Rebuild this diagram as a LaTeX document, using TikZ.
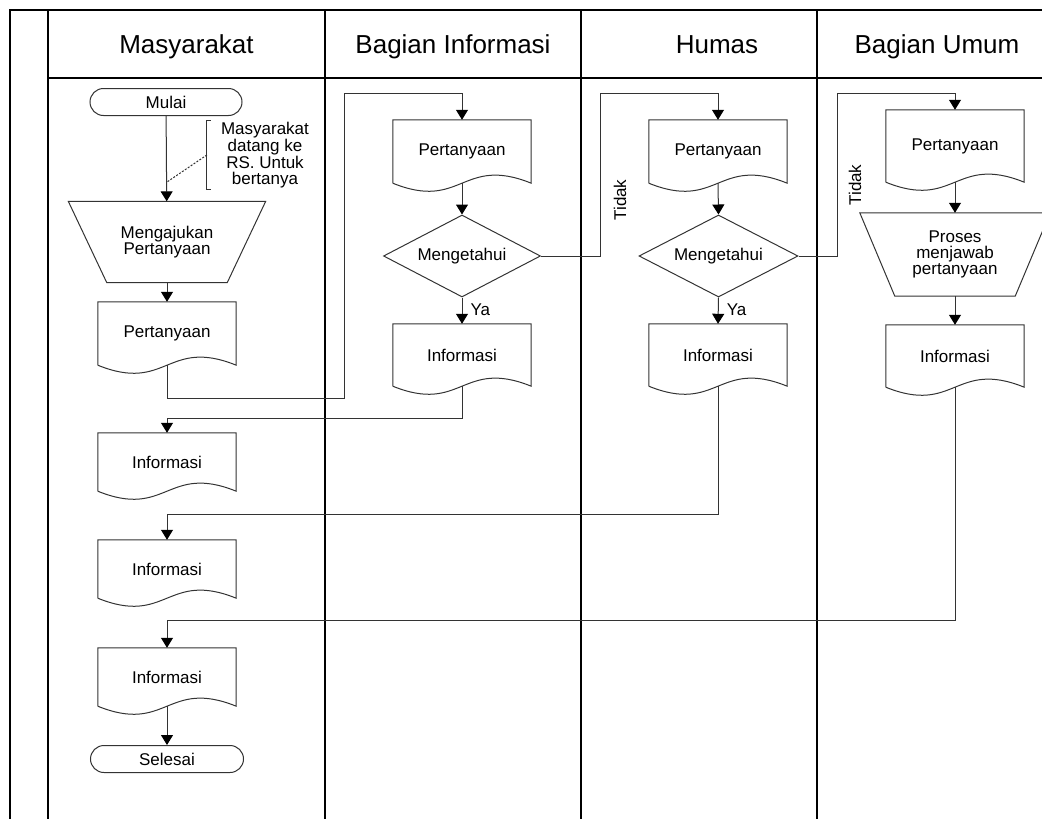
\documentclass[tikz,border=0pt]{standalone}
\usepackage{fontspec}
\setmainfont{Liberation Sans}
\usepackage{tikz}
\usetikzlibrary{shapes.geometric,arrows.meta,calc}
\definecolor{linecol}{gray}{0.2}

\tikzset{
  shapeline/.style={draw=linecol, line width=1pt},
  flow/.style={draw=linecol, line width=1pt, -{Triangle[width=12pt,length=10pt,black]}},
  lane/.style={draw=black, line width=1.3pt},
  headtext/.style={font=\fontsize{26}{30}\selectfont, anchor=base},
  bodytext/.style={font=\fontsize{17}{15.7}\selectfont, align=center},
  terminal/.style={bodytext, shapeline, rounded corners=13.5pt, minimum width=152pt, minimum height=27pt, inner sep=0pt},
  decision/.style={bodytext, shapeline, diamond, aspect=2, minimum width=157pt, minimum height=82pt, inner sep=0pt},
  docbox/.style={bodytext, minimum width=138pt, minimum height=#1pt, inner sep=0pt,
    append after command={\pgfextra{
      \draw[shapeline] (\tikzlastnode.south west) -- (\tikzlastnode.north west)
        -- (\tikzlastnode.north east) -- (\tikzlastnode.south east)
        .. controls ($(\tikzlastnode.south)+(0,-28)$) and ($(\tikzlastnode.south)+(0,28)$)
        .. (\tikzlastnode.south west);}}},
  docbox/.default=63,
  manop/.style n args={3}{bodytext, minimum width=#1pt, minimum height=#2pt, inner sep=0pt,
    append after command={\pgfextra{
      \draw[shapeline] (\tikzlastnode.north west) -- (\tikzlastnode.north east)
        -- ($(\tikzlastnode.south east)+(-#3,0)$) -- ($(\tikzlastnode.south west)+(#3,0)$) -- cycle;}}},
}

\begin{document}
\begin{tikzpicture}[x=1pt,y=-1pt]
\useasboundingbox (0,0) rectangle (1042,819);

% lanes
\draw[lane] (10,819) -- (10,10) -- (1060,10);
\draw[lane] (48,10) -- (48,819);
\draw[lane] (48,78) -- (1060,78);
\draw[lane] (325,10) -- (325,819);
\draw[lane] (581,10) -- (581,819);
\draw[lane] (817,10) -- (817,819);

\node[headtext] (hmas) at (186.5,53) {Masyarakat};
\node[headtext] (hinfo) at (453,53) {Bagian Informasi};
\node[headtext] (hhumas) at (717,53) {Humas};
\node[headtext] (humum) at (937,53) {Bagian Umum};

% Masyarakat
\node[terminal] (mulai) at (166,102) {Mulai};
\node[manop={197}{81}{38.5}] (ajukan) at (167,242) {Mengajukan\\Pertanyaan};
\node[docbox] (tanya1) at (167,333.5) {Pertanyaan};
\node[docbox=58] (infoA) at (167,462) {Informasi};
\node[docbox=58] (infoB) at (167,569) {Informasi};
\node[docbox=58] (infoC) at (167,677) {Informasi};
\node[terminal, minimum width=153pt] (selesai) at (167,759) {Selesai};

% keterangan
\node[bodytext, inner xsep=14pt, inner ysep=2pt] (note) at (265,155) {Masyarakat\\datang ke\\RS. Untuk\\bertanya};
\draw[shapeline] ($(note.north west)+(4,0)$) -- (note.north west) -- (note.south west) -- ($(note.south west)+(4,0)$);
\coordinate (notept) at (167,182);
\draw[shapeline, dashed, dash pattern=on 2pt off 1.5pt] (note.west) -- (notept);

% Bagian Informasi
\node[docbox] (tanya2) at (462,151.5) {Pertanyaan};
\node[decision] (tahu2) at (462,256) {Mengetahui};
\node[docbox=62] (info2) at (462,355) {Informasi};

% Humas
\node[docbox] (tanya3) at (718,151.5) {Pertanyaan};
\node[decision, minimum width=159pt] (tahu3) at (718.5,256) {Mengetahui};
\node[docbox=62] (info3) at (718,355) {Informasi};

% Bagian Umum
\node[docbox=72] (tanya4) at (955,146) {Pertanyaan};
\node[manop={190}{83}{35}] (proses) at (955,254.5) {Proses\\menjawab\\pertanyaan};
\node[docbox=62] (info4) at (955,356) {Informasi};

% alur
\coordinate (j1) at (344,398);
\coordinate (j2) at (344,93);
\coordinate (k1) at (600,93);
\coordinate (k2) at (837,93);

\draw[flow] (mulai) -- (ajukan);
\draw[flow] (ajukan.south) -- (tanya1.north);
\draw[flow] (tanya1.south) |- (j1) -- (j2) -| (tanya2.north);
\draw[flow] (tanya2.south) -- (tahu2.north);
\draw[flow] (tahu2.south) -- node[bodytext, right, pos=0.45, inner xsep=8pt] {Ya} (info2.north);
\draw[flow] (tahu2.east) -| (k1) -| (tanya3.north);
\node[bodytext, rotate=90] (tidak1) at (620,200) {Tidak};
\draw[flow] (tanya3.south) -- (tahu3.north);
\draw[flow] (tahu3.south) -- node[bodytext, right, pos=0.45, inner xsep=8pt] {Ya} (info3.north);
\draw[flow] (tahu3.east) -| (k2) -| (tanya4.north);
\node[bodytext, rotate=90] (tidak2) at (855,185) {Tidak};
\draw[flow] (tanya4.south) -- (proses.north);
\draw[flow] (proses.south) -- (info4.north);

\draw[flow] (info2.south) -- ++(0,32) -| (infoA.north);
\draw[flow] (info3.south) -- ++(0,128) -| (infoB.north);
\draw[flow] (info4.south) -- ++(0,233) -| (infoC.north);
\draw[flow] (infoC.south) -- (selesai.north);
\end{tikzpicture}
\end{document}
